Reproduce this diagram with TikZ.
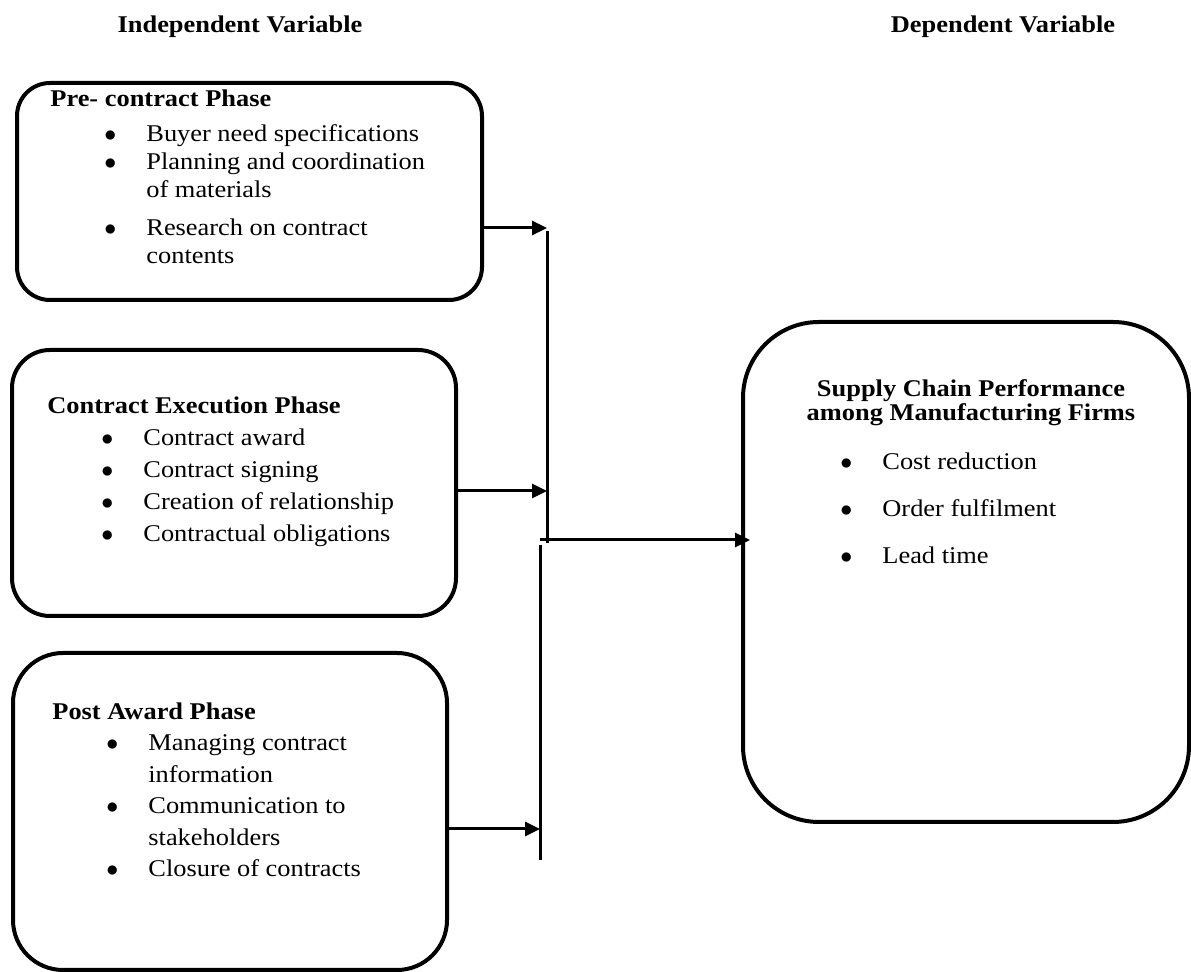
\documentclass[tikz,border=0pt]{standalone}
\usepackage{fontspec}
\setmainfont[FakeStretch=1.1]{Liberation Serif}
\usepackage{tikz}
\usetikzlibrary{positioning,arrows.meta}
\newcommand{\bul}{\hspace*{27pt}\makebox[21pt][l]{$\bullet$}}
\newcommand{\wrp}{\hspace*{48pt}}

\begin{document}
\begin{tikzpicture}[x=0.5pt, y=-0.5pt, >={Triangle[length=7.5pt,width=7pt]},
  box/.style={draw, line width=2pt},
  conn/.style={line width=1.5pt},
  head/.style={font=\bfseries\fontsize{12}{14}\selectfont, anchor=base},
  txt/.style={inner sep=0pt, align=left, font=\fontsize{12}{14}\selectfont}]

\useasboundingbox (0,0) rectangle (1191,972);

\foreach \n/\cx/\cy/\w/\h/\r in {pre/249.5/191.5/232.5/108.5/16.5, exec/234/483/222/133/19, post/230/811.5/217/158.5/25, perf/966/572/223/250/38}
  \node[box, minimum width=\w pt, minimum height=\h pt, rounded corners=\r pt] (\n) at (\cx,\cy) {};

\node[head] (indep) at (240,33) {Independent Variable};
\node[head] (dep) at (1003,33) {Dependent Variable};

\node[txt, anchor=north west] (pre-list) at (50,89) {\textbf{Pre- contract Phase}\\[3.5pt]
\bul Buyer need specifications\\
\bul Planning and coordination\\
\wrp of materials\\[5pt]
\bul Research on contract\\
\wrp contents};

\node[txt, anchor=north west, font=\fontsize{12}{16}\selectfont] (exec-list) at (47,396) {\textbf{Contract Execution Phase}\\
\bul Contract award\\
\bul Contract signing\\
\bul Creation of relationship\\
\bul Contractual obligations};

\node[txt, anchor=north west, font=\fontsize{12}{15.75}\selectfont] (post-list) at (52,702) {\textbf{Post Award Phase}\\
\bul Managing contract\\
\wrp information\\
\bul Communication to\\
\wrp stakeholders\\
\bul Closure of contracts};

\node[inner sep=0pt, align=center, anchor=north, font=\bfseries\fontsize{12}{11}\selectfont] (perf-title) at (971,379) {Supply Chain Performance\\among Manufacturing Firms};
\node[txt, anchor=north west, font=\fontsize{12}{23.5}\selectfont] (perf-list) at (786,452) {\bul Cost reduction\\
\bul Order fulfilment\\
\bul Lead time};

\coordinate (busA-top) at (547,231);
\coordinate (busA-end) at (547,543);
\coordinate (busB-top) at (540,545);
\coordinate (busB-end) at (540,860);
\draw[conn] (busA-top) -- (busA-end);
\draw[conn] (busB-top) -- (busB-end);

\foreach \b/\bus/\yy in {pre/busA/228, exec/busA/491, post/busB/829}
  \draw[conn,->] (\b.east |- 0,\yy) -- (\bus-top |- 0,\yy);

\draw[conn,->, shorten >=-4.5pt] (busB-top |- 0,540) -- (perf.west |- 0,540);
\end{tikzpicture}
\end{document}
